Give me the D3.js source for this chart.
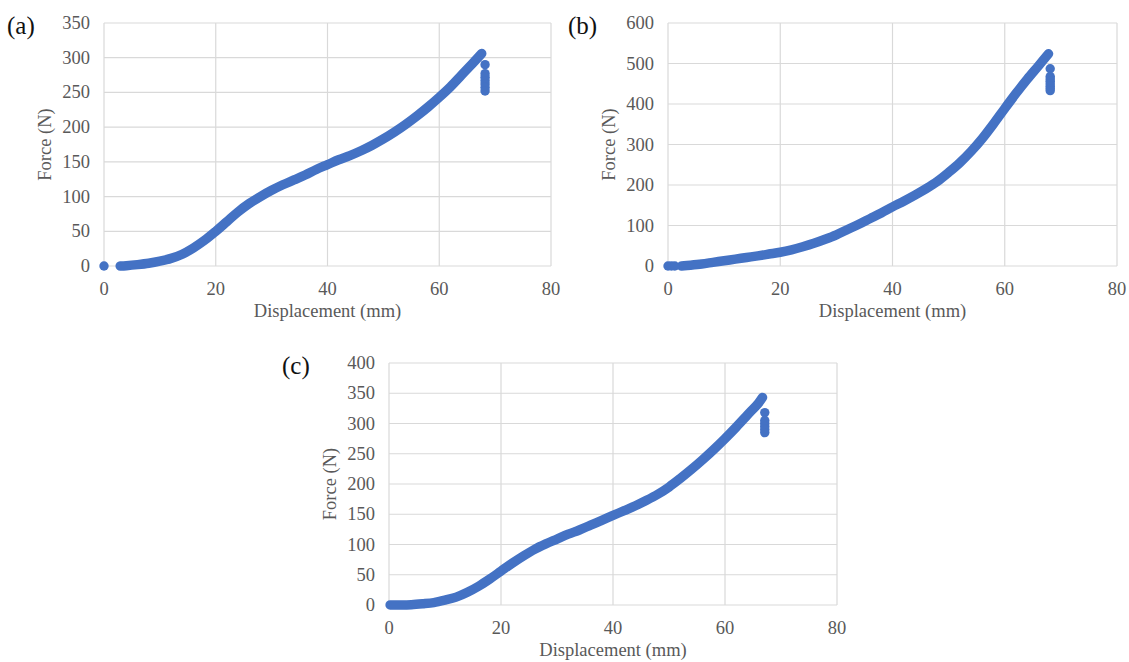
<!DOCTYPE html>
<html>
<head>
<meta charset="utf-8">
<script src="https://cdn.jsdelivr.net/npm/d3@7"></script>
<style>
  body { margin: 0; background: #fff; }
  svg text { font-family: "Liberation Serif", "Times New Roman", serif; }
</style>
</head>
<body>
<svg id="chart" width="1129" height="662"></svg>
<script>
// displacement (mm) ticks shared by all three panels
const X_TICKS = [0, 20, 40, 60, 80];

// panel (a)
const A_TICKS = [0, 50, 100, 150, 200, 250, 300, 350];
const A_START = [[0, 0]];
const A_CURVE = [[2.9,0],[4,0.5],[6,2],[8,4],[10,7],[12,11],[14,17],[16,26],[18,37],[20,50],
  [22,64],[24,78],[26,90],[28,100],[30,109],[32,117],[34,124],[36,131],[38,139],[40,146],
  [42,153],[44,159],[46,166],[48,174],[50,183],[52,193],[54,204],[56,216],[58,229],[60,243],
  [62,258],[64,275],[66,292],[67.6,306]];
const A_DROP = [[68.2,290],[68.2,277],[68.2,272],[68.2,267],[68.2,262],[68.2,257],[68.2,252]];

// panel (b)
const B_TICKS = [0, 100, 200, 300, 400, 500, 600];
const B_START = [[0, 0], [0.6, 0], [1.2, 0]];
const B_CURVE = [[2.4,0],[4,2],[6,5],[8,9],[10,13],[12,17],[14,21],[16,25],[18,29.5],[20,34],
  [22,40],[24,47.5],[26,56],[28,66],[30,77],[32,90],[34,103],[36,117],[38,131],[40,146],
  [42,160],[44,175],[46,191],[48,209],[50,231],[52,255],[54,283],[56,315],[58,351],[60,389],
  [62,426],[64,461],[66,494],[67.8,524]];
const B_DROP = [[68.1,487],[68.1,468],[68.1,462],[68.1,456],[68.1,450],[68.1,444],[68.1,438],[68.1,433]];

// panel (c)
const C_TICKS = [0, 50, 100, 150, 200, 250, 300, 350, 400];
const C_START = [];
const C_CURVE = [[0.2,0],[2,0],[4,0.5],[6,2],[8,4],[10,8],[12,13],[14,21],[16,31],[18,43],
  [20,56],[22,69],[24,81],[26,92],[28,101],[30,109],[32,117],[34,124],[36,132],[38,140],
  [40,148],[42,156],[44,164],[46,173],[48,183],[50,195],[52,209],[54,224],[56,240],[58,257],
  [60,275],[62,294],[64,314],[66,334],[66.7,343]];
const C_DROP = [[67.1,318],[67.1,305],[67.1,300],[67.1,295],[67.1,290],[67.1,285]];

const BLUE = "#4472c4", GRID = "#d9d9d9", TEXT = "#595959";
const FS = 18.5;
const svg = d3.select("#chart");

function panel(opt){
  const x = d3.scaleLinear().domain([0, 80]).range([opt.left, opt.right]);
  const y = d3.scaleLinear().domain([0, d3.max(opt.yTicks)]).range([opt.bottom, opt.top]);
  const g = svg.append("g");

  // grid: vertical lines at every x tick, horizontal at every y tick
  g.selectAll(".vx").data(X_TICKS).join("line")
      .attr("x1", d => x(d)).attr("x2", d => x(d))
      .attr("y1", opt.top).attr("y2", opt.bottom)
      .attr("stroke", GRID).attr("stroke-width", 1.2);
  g.selectAll(".hy").data(opt.yTicks).join("line")
      .attr("x1", opt.left).attr("x2", opt.right)
      .attr("y1", d => y(d)).attr("y2", d => y(d))
      .attr("stroke", GRID).attr("stroke-width", 1.2);

  // tick labels
  g.selectAll(".xl").data(X_TICKS).join("text")
      .attr("x", d => x(d)).attr("y", opt.bottom + 29)
      .attr("text-anchor", "middle").attr("font-size", FS).attr("fill", TEXT)
      .text(d => d);
  g.selectAll(".yl").data(opt.yTicks).join("text")
      .attr("x", opt.left - 14).attr("y", d => y(d) + 6)
      .attr("text-anchor", "end").attr("font-size", FS).attr("fill", TEXT)
      .text(d => d);

  // axis titles
  g.append("text")
      .attr("x", (opt.left + opt.right) / 2).attr("y", opt.bottom + 51)
      .attr("text-anchor", "middle").attr("font-size", FS).attr("fill", TEXT)
      .text("Displacement (mm)");
  g.append("text")
      .attr("transform", `translate(${opt.left - 53},${(opt.top + opt.bottom) / 2}) rotate(-90)`)
      .attr("text-anchor", "middle").attr("font-size", FS).attr("fill", TEXT)
      .text("Force (N)");

  // panel letter
  g.append("text")
      .attr("x", opt.labelX).attr("y", opt.labelY)
      .attr("font-size", 25).attr("fill", "#111")
      .text(opt.label);

  // the dense measurement points read as a thick band
  const line = d3.line().x(d => x(d[0])).y(d => y(d[1])).curve(d3.curveCatmullRom.alpha(0.5));
  g.append("path").datum(opt.curve)
      .attr("d", line)
      .attr("fill", "none").attr("stroke", BLUE)
      .attr("stroke-width", 9.5).attr("stroke-linecap", "round").attr("stroke-linejoin", "round");

  g.selectAll(".pt").data(opt.start.concat(opt.drop)).join("circle")
      .attr("cx", d => x(d[0])).attr("cy", d => y(d[1]))
      .attr("r", 4.7).attr("fill", BLUE);
}

panel({ label: "(a)", labelX: 7, labelY: 34, left: 104, right: 551, top: 23, bottom: 266,
        yTicks: A_TICKS, start: A_START, curve: A_CURVE, drop: A_DROP });
panel({ label: "(b)", labelX: 568, labelY: 34, left: 668, right: 1117, top: 23, bottom: 266,
        yTicks: B_TICKS, start: B_START, curve: B_CURVE, drop: B_DROP });
panel({ label: "(c)", labelX: 282, labelY: 374, left: 389, right: 837, top: 363, bottom: 605,
        yTicks: C_TICKS, start: C_START, curve: C_CURVE, drop: C_DROP });
</script>
</body>
</html>
